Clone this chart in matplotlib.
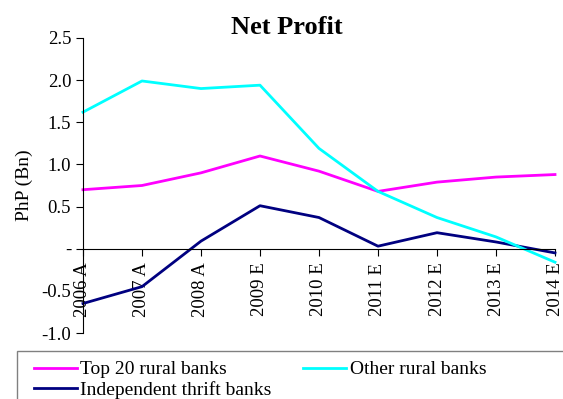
import matplotlib
matplotlib.use("Agg")
import matplotlib.pyplot as plt
from matplotlib.patches import Rectangle
import numpy as np

plt.rcParams['font.family'] = ['Liberation Serif', 'DejaVu Serif']
plt.rcParams['axes.unicode_minus'] = False

# data (PhP Bn)
years = ["2006 A", "2007 A", "2008 A", "2009 E", "2010 E",
         "2011 E", "2012 E", "2013 E", "2014 E"]
top20_rural = [0.70, 0.75, 0.90, 1.10, 0.92, 0.68, 0.79, 0.85, 0.88]
other_rural = [1.62, 1.99, 1.90, 1.94, 1.19, 0.68, 0.37, 0.14, -0.16]
indep_thrift = [-0.65, -0.45, 0.09, 0.51, 0.37, 0.03, 0.19, 0.08, -0.05]

y_ticks = [-1.0, -0.5, 0.0, 0.5, 1.0, 1.5, 2.0, 2.5]
y_labels = ["-1.0", "-0.5", "-", "0.5", "1.0", "1.5", "2.0", "2.5"]

fig = plt.figure(figsize=(5.63, 3.99), dpi=100)
ax = fig.add_axes([0.1474, 0.1654, 0.8384, 0.7394])

x = np.arange(len(years))
ax.plot(x, top20_rural, color='#FF00FF', lw=2.0, label='Top 20 rural banks', clip_on=False)
ax.plot(x, indep_thrift, color='#000080', lw=2.0, label='Independent thrift banks', clip_on=False)
ax.plot(x, other_rural, color='#00FFFF', lw=2.0, label='Other rural banks', clip_on=False)

ax.set_xlim(0, len(years) - 1)
ax.set_ylim(-1.0, 2.5)
ax.set_yticks(y_ticks)
ax.set_yticklabels(y_labels)
ax.set_xticks(x)
ax.set_xticklabels(years)

ax.spines['top'].set_visible(False)
ax.spines['right'].set_visible(False)
ax.spines['bottom'].set_position(('data', 0))
ax.spines['left'].set_linewidth(0.8)
ax.spines['bottom'].set_linewidth(0.8)
ax.tick_params(axis='both', direction='out', length=5, width=0.8, labelsize=13.5)
ax.tick_params(axis='x', pad=5, labelrotation=90)
for lab in ax.get_xticklabels():
    lab.set_verticalalignment('top')

ax.set_ylabel('PhP (Bn)', fontsize=14, labelpad=6)
fig.text(287 / 563, 1 - 28 / 399, 'Net Profit', fontsize=19, fontweight='bold',
         ha='center', va='center')

leg = fig.legend(loc='upper left', bbox_to_anchor=(28 / 563, 1 - 355 / 399),
                 ncol=2, fontsize=14, handlelength=2.2, handletextpad=0.2,
                 columnspacing=1.6, labelspacing=0.15, borderpad=0.3,
                 frameon=False, borderaxespad=0)
fig.add_artist(Rectangle((17 / 563, -0.1), 1.0, 1 - 351 / 399 + 0.1,
                         transform=fig.transFigure, fill=False,
                         edgecolor='#808080', linewidth=1.0))

fig.savefig('out.png', dpi=100)
